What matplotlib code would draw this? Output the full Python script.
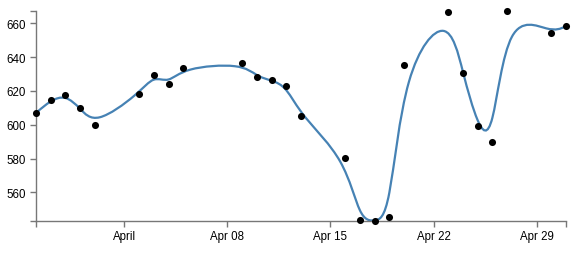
import matplotlib
matplotlib.use("Agg")
import matplotlib.pyplot as plt
import matplotlib.dates as mdates
from matplotlib.path import Path
from matplotlib.patches import PathPatch
import numpy as np
import datetime as dt

dates = ["2012-03-26", "2012-03-27", "2012-03-28", "2012-03-29", "2012-03-30",
         "2012-04-02", "2012-04-03", "2012-04-04", "2012-04-05",
         "2012-04-09", "2012-04-10", "2012-04-11", "2012-04-12", "2012-04-13",
         "2012-04-16", "2012-04-17", "2012-04-18", "2012-04-19", "2012-04-20",
         "2012-04-23", "2012-04-24", "2012-04-25", "2012-04-26", "2012-04-27",
         "2012-04-30", "2012-05-01"]
values = [607.0, 614.5, 617.7, 609.8, 599.6,
          618.5, 629.3, 624.4, 633.8,
          636.4, 628.5, 626.3, 622.8, 605.3,
          580.1, 543.4, 543.1, 545.2, 635.2,
          666.9, 630.5, 599.0, 589.7, 667.3,
          654.1, 658.4]
y_ticks = [560, 580, 600, 620, 640, 660]
x_tick_dates = ["2012-04-01", "2012-04-08", "2012-04-15", "2012-04-22", "2012-04-29"]
x_tick_labels = ["April", "Apr 08", "Apr 15", "Apr 22", "Apr 29"]

plt.rcParams['font.family'] = ['Liberation Sans', 'DejaVu Sans']

xs = np.array([mdates.date2num(dt.datetime.strptime(d, "%Y-%m-%d")) for d in dates])
ys = np.array(values, dtype=float)

# d3 curveBasis path
def basis_path(x, y):
    verts = [(x[0], y[0])]
    codes = [Path.MOVETO]
    n = len(x)
    def seg(x0, y0, x1, y1, xn, yn):
        verts.extend([((2*x0 + x1)/3, (2*y0 + y1)/3),
                      ((x0 + 2*x1)/3, (y0 + 2*y1)/3),
                      ((x0 + 4*x1 + xn)/6, (y0 + 4*y1 + yn)/6)])
        codes.extend([Path.CURVE4]*3)
    verts.append(((5*x[0] + x[1])/6, (5*y[0] + y[1])/6))
    codes.append(Path.LINETO)
    for i in range(2, n):
        seg(x[i-2], y[i-2], x[i-1], y[i-1], x[i], y[i])
    seg(x[n-2], y[n-2], x[n-1], y[n-1], x[n-1], y[n-1])
    verts.append((x[n-1], y[n-1]))
    codes.append(Path.LINETO)
    return Path(verts, codes)

fig = plt.figure(figsize=(5.81, 2.55), dpi=100)
W, H = 581, 255
ax = fig.add_axes([36/W, (H-222)/H, (566-36)/W, (222-12)/H])

patch = PathPatch(basis_path(xs, ys), facecolor='none', edgecolor='#4682b4',
                  linewidth=1.6, zorder=2)
ax.add_patch(patch)
ax.scatter(xs, ys, s=26, color='black', zorder=3, clip_on=False, linewidths=0)

ax.set_xlim(xs[0], xs[-1])
ax.set_ylim(ys.min(), ys.max())

for s in ['top', 'right']:
    ax.spines[s].set_visible(False)
for s in ['left', 'bottom']:
    ax.spines[s].set_color('#777777')
    ax.spines[s].set_linewidth(1.0)

ax.set_yticks(y_ticks)
ax.set_yticklabels([str(v) for v in y_ticks])
ax.set_yticks([ys.min(), ys.max()], minor=True)
xt = [mdates.date2num(dt.datetime.strptime(d, "%Y-%m-%d")) for d in x_tick_dates]
ax.set_xticks(xt)
ax.set_xticklabels(x_tick_labels)
ax.set_xticks([xs[0], xs[-1]], minor=True)

ax.tick_params(which='both', direction='out', length=4.3, width=1.0, color='#777777',
               labelsize=8.3, labelcolor='#000000')
ax.tick_params(axis='y', pad=3)
ax.tick_params(axis='x', pad=2.5)

fig.savefig("out.png", dpi=100)
